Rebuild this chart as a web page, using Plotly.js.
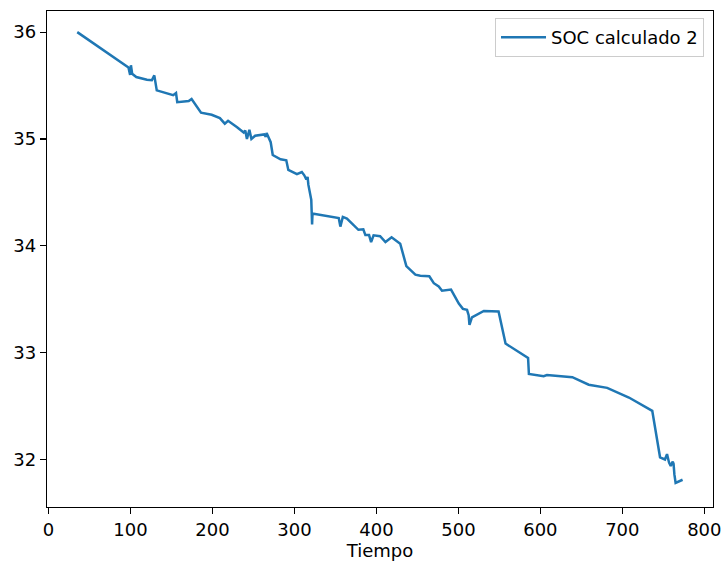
<!DOCTYPE html>
<html>
<head>
<meta charset="utf-8">
<script src="https://cdn.plot.ly/plotly-3.0.1.min.js"></script>
<style>html,body{margin:0;padding:0;background:#fff;}#chart{width:728px;height:567px;}</style>
</head>
<body>
<div id="chart"></div>
<script>
var seriesName = "SOC calculado 2";
var xLabel = "Tiempo";
var tiempo = [35, 93, 97.5, 99.5, 100.5, 102, 107, 120, 126, 129, 132, 152, 155.5, 157, 171, 174.5, 186, 199, 209, 215, 219, 230, 238, 240, 242, 245, 247.5, 252, 263, 265, 266, 271, 273.5, 283, 290, 292.5, 303, 309, 312, 314.5, 316, 317, 320.5, 321.5, 322, 323.5, 354, 356, 359, 364, 374, 378, 384, 386.5, 391, 393.5, 396.5, 404.5, 411, 418.5, 429, 436.5, 447.5, 453.5, 464.5, 470, 476, 480, 491, 500.5, 505.5, 510.5, 512.5, 513.5, 516.5, 531, 549, 557.5, 585, 586, 604, 608, 639, 659, 681.5, 708, 736.5, 746, 752, 754.5, 757, 759, 761.5, 762.5, 763.5, 765, 773.5];
var soc = [36.00, 35.69, 35.67, 35.60, 35.69, 35.61, 35.58, 35.555, 35.55, 35.595, 35.455, 35.41, 35.43, 35.345, 35.355, 35.375, 35.246, 35.227, 35.195, 35.143, 35.17, 35.11, 35.06, 35.08, 35.00, 35.085, 35.00, 35.03, 35.043, 35.02, 35.055, 34.97, 34.85, 34.81, 34.80, 34.71, 34.67, 34.69, 34.66, 34.62, 34.645, 34.57, 34.43, 34.20, 34.30, 34.30, 34.26, 34.18, 34.27, 34.255, 34.18, 34.15, 34.155, 34.10, 34.10, 34.035, 34.098, 34.09, 34.035, 34.08, 34.02, 33.81, 33.73, 33.72, 33.715, 33.65, 33.62, 33.58, 33.59, 33.46, 33.41, 33.40, 33.35, 33.26, 33.33, 33.39, 33.385, 33.085, 32.95, 32.80, 32.78, 32.79, 32.77, 32.70, 32.67, 32.58, 32.455, 32.02, 32.00, 32.05, 31.97, 31.94, 31.98, 31.96, 31.86, 31.78, 31.81];
var xTicks = [0, 100, 200, 300, 400, 500, 600, 700, 800];
var yTicks = [32, 33, 34, 35, 36];

var font = {family: "DejaVu Sans", size: 18, color: "#000"};
var axisCommon = {
  showgrid: false, zeroline: false, showline: true, linecolor: "#000", linewidth: 1.2,
  mirror: true, ticks: "outside", ticklen: 6, tickwidth: 1.2, tickcolor: "#000",
  tickfont: font, tickmode: "array"
};
var layout = {
  width: 728, height: 567,
  margin: {l: 47, r: 15, t: 11, b: 60},
  paper_bgcolor: "#fff", plot_bgcolor: "#fff",
  font: font,
  showlegend: true,
  xaxis: Object.assign({}, axisCommon, {
    range: [-1.9, 810.6], tickvals: xTicks, ticktext: xTicks.map(String),
    title: {text: xLabel, font: font, standoff: 5}
  }),
  yaxis: Object.assign({}, axisCommon, {
    range: [31.555, 36.198], tickvals: yTicks, ticktext: yTicks.map(String)
  }),
  legend: {
    x: 0.9865, y: 0.986, xanchor: "right", yanchor: "top",
    bgcolor: "rgba(255,255,255,0.8)", bordercolor: "#ccc", borderwidth: 1,
    font: font, itemwidth: 45
  }
};
Plotly.newPlot("chart", [{
  x: tiempo, y: soc, type: "scatter", mode: "lines", name: seriesName,
  line: {color: "#1f77b4", width: 2.5}
}], layout, {displayModeBar: false, staticPlot: true});
</script>
</body>
</html>
